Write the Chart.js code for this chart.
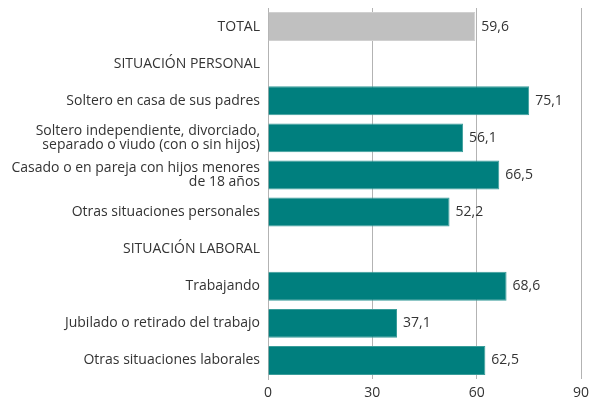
<!DOCTYPE html>
<html><head><meta charset="utf-8">
<script src="https://cdn.jsdelivr.net/npm/chart.js@4"></script>
<style>html,body{margin:0;padding:0;background:#fff}#wrap{width:590px;height:400px}</style>
</head><body><div id="wrap"><canvas id="c" width="590" height="400"></canvas></div>
<script>
const categories = [
  "TOTAL",
  "SITUACIÓN PERSONAL",
  "Soltero en casa de sus padres",
  ["Soltero independiente, divorciado,", "separado o viudo (con o sin hijos)"],
  ["Casado o en pareja con hijos menores", "de 18 años"],
  "Otras situaciones personales",
  "SITUACIÓN LABORAL",
  "Trabajando",
  "Jubilado o retirado del trabajo",
  "Otras situaciones laborales"
];
const values = [59.6, null, 75.1, 56.1, 66.5, 52.2, null, 68.6, 37.1, 62.5];
const barColors = ["#c0c0c0", "#007f7e", "#007f7e", "#007f7e", "#007f7e", "#007f7e", "#007f7e", "#007f7e", "#007f7e", "#007f7e"];
const xTicks = [0, 30, 60, 90];

const FONT = "'Open Sans', sans-serif";
const valueLabels = {
  id: 'valueLabels',
  afterDatasetsDraw(chart) {
    const ctx = chart.ctx;
    const meta = chart.getDatasetMeta(0);
    ctx.save();
    ctx.font = "14px " + FONT;
    ctx.fillStyle = "#333";
    ctx.textAlign = "left";
    ctx.textBaseline = "middle";
    meta.data.forEach((bar, i) => {
      const v = values[i];
      if (v === null) return;
      ctx.fillText(v.toFixed(1).replace('.', ','), bar.x + 6, bar.y);
    });
    ctx.restore();
  }
};

new Chart(document.getElementById('c'), {
  type: 'bar',
  data: {
    labels: categories,
    datasets: [{
      data: values,
      backgroundColor: barColors,
      borderColor: barColors.map(c => c === "#c0c0c0" ? "#d0d0d0" : "#3a9d9a"),
      borderWidth: {top: 1, bottom: 1, right: 1, left: 0},
      barPercentage: 0.78,
      categoryPercentage: 1.0
    }]
  },
  options: {
    indexAxis: 'y',
    responsive: false,
    animation: false,
    layout: {padding: {top: 8, right: 0, bottom: 0, left: 0}},
    plugins: {legend: {display: false}, tooltip: {enabled: false}},
    scales: {
      x: {
        min: 0, max: 90,
        afterBuildTicks(scale) { scale.ticks = xTicks.map(v => ({value: v})); },
        afterFit(scale) { scale.height = 21; scale.paddingRight = 9; scale.paddingLeft = 0; },
        grid: {color: "#b3b3b3", lineWidth: 1, drawTicks: false},
        border: {display: false},
        ticks: {font: {size: 14, family: FONT}, color: "#333", padding: 6}
      },
      y: {
        afterFit(scale) { scale.width = 268; scale.paddingTop = 0; scale.paddingBottom = 0; },
        grid: {display: false, drawTicks: false},
        border: {display: true, color: "#b3b3b3"},
        ticks: {font: {size: 14, family: FONT, lineHeight: 0.97}, color: "#333", padding: 8, autoSkip: false}
      }
    }
  },
  plugins: [valueLabels]
});
</script></body></html>
